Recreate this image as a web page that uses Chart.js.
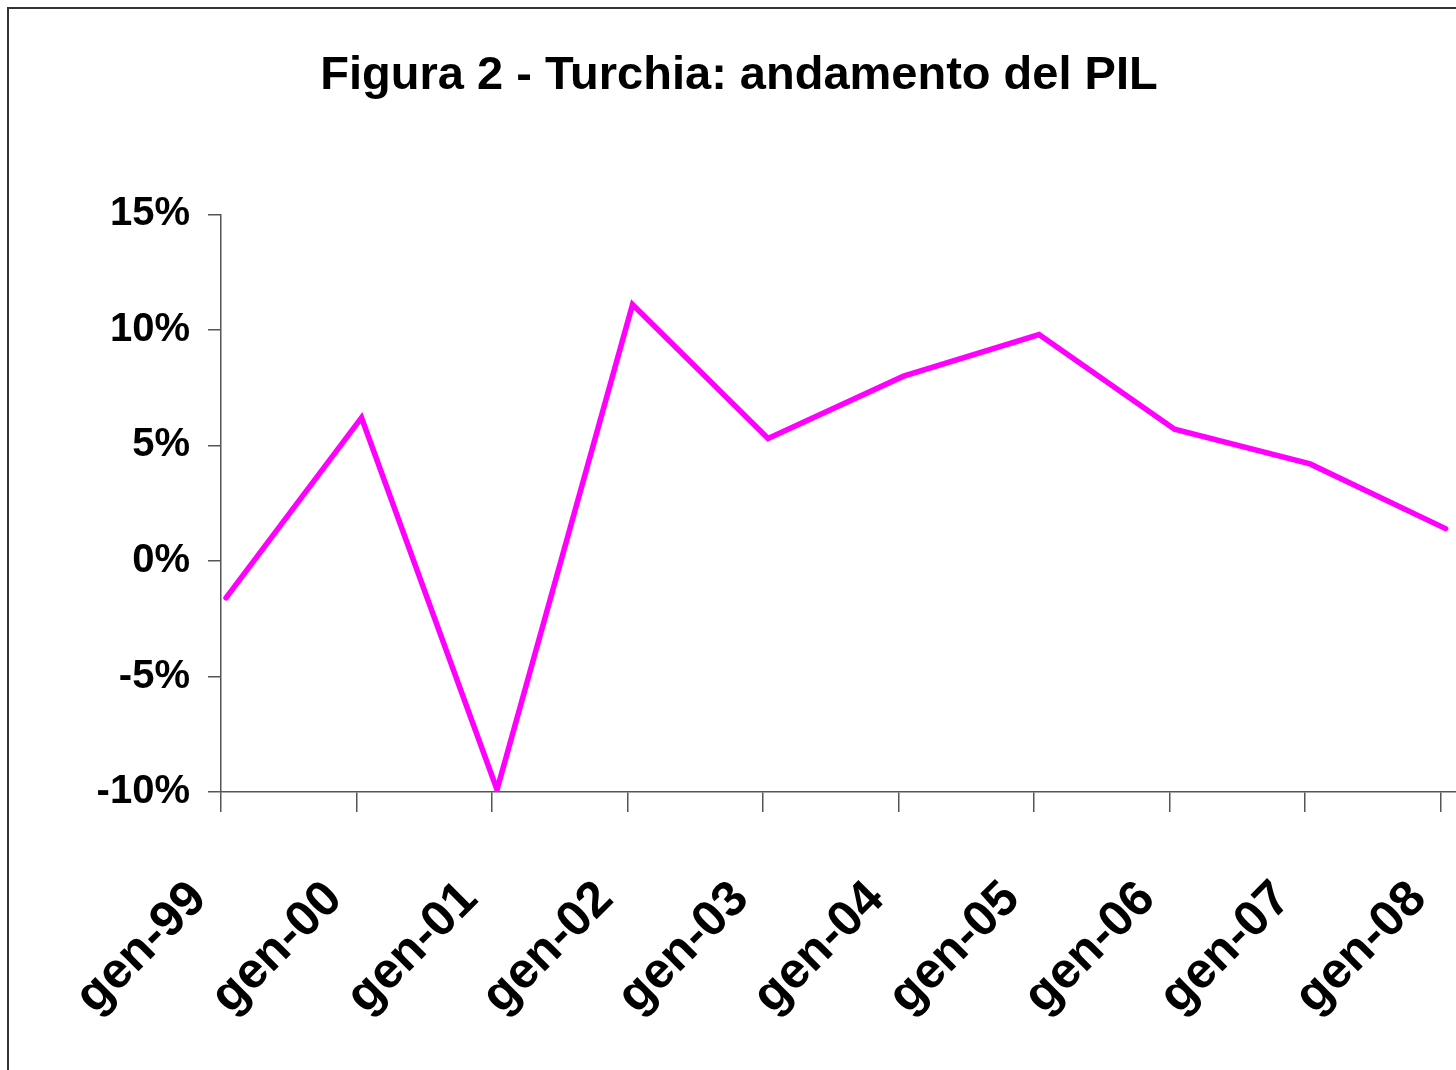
<!DOCTYPE html>
<html>
<head>
<meta charset="utf-8">
<script src="https://cdn.jsdelivr.net/npm/chart.js@4.4.1/dist/chart.umd.min.js"></script>
<style>
  html, body { margin: 0; padding: 0; background: #fff; overflow: hidden; }
  #frame { position: absolute; left: 7px; top: 7px; width: 1500px; height: 1100px; border-left: 2px solid #333; border-top: 2px solid #333; }
  #wrap { position: absolute; left: 0; top: 0; width: 1456px; height: 1070px; }
</style>
</head>
<body>
<div id="frame"></div>
<div id="wrap"><canvas id="chart-pil"></canvas></div>
<script>
// Figura 2 - Turchia: andamento del PIL
let labelsPil = ['gen-99', 'gen-00', 'gen-01', 'gen-02', 'gen-03', 'gen-04', 'gen-05', 'gen-06', 'gen-07', 'gen-08'];
let dataPil = [-1.6, 6.2, -9.9, 11.1, 5.3, 8.0, 9.8, 5.7, 4.2, 1.4];
let yTicks = [-10, -5, 0, 5, 10, 15];

// Excel draws the year ticks a little before each data point
let tickShift = 0.037;

let font = { family: 'Liberation Sans, Arial, sans-serif', weight: 'bold' };
let axisColor = '#555';

let ctxPil = document.getElementById('chart-pil').getContext('2d');

let chartPil = new Chart(ctxPil, {
    type: 'line',
    data: {
        datasets: [{
            data: dataPil.map((v, i) => ({ x: i, y: v })),
            borderColor: '#FF00FF',
            borderWidth: 5.5,
            pointRadius: 0,
            tension: 0,
            borderCapStyle: 'round',
            borderJoinStyle: 'miter'
        }]
    },
    options: {
        responsive: true,
        maintainAspectRatio: false,
        animation: false,
        layout: { padding: { left: 22, right: 0, top: 0, bottom: 0 } },
        plugins: {
            legend: { display: false },
            tooltip: { enabled: false },
            title: {
                display: true,
                text: 'Figura 2 - Turchia: andamento del PIL',
                color: '#000',
                font: { family: font.family, weight: 'bold', size: 47 },
                padding: { top: 48, bottom: 110 }
            }
        },
        scales: {
            x: {
                type: 'linear',
                min: -tickShift,
                max: 9.077,
                afterBuildTicks: (scale) => {
                    scale.ticks = labelsPil.map((l, i) => ({ value: i - tickShift }));
                },
                afterFit: (scale) => {
                    scale.height = 278;
                    scale.paddingLeft = 0;
                    scale.paddingRight = 0;
                },
                ticks: {
                    autoSkip: false,
                    maxRotation: 45,
                    minRotation: 45,
                    padding: 58,
                    labelOffset: -22,
                    color: '#000',
                    font: { family: font.family, weight: 'bold', size: 50 },
                    callback: (value) => labelsPil[Math.round(value + tickShift)]
                },
                grid: { drawOnChartArea: false, drawTicks: true, tickLength: 20, color: axisColor, lineWidth: 1.5 },
                border: { display: true, color: axisColor, width: 1.5 }
            },
            y: {
                min: -10,
                max: 15,
                afterBuildTicks: (scale) => {
                    scale.ticks = yTicks.map(v => ({ value: v }));
                },
                afterFit: (scale) => { scale.width = 199; },
                ticks: {
                    padding: 18,
                    color: '#000',
                    font: { family: font.family, weight: 'bold', size: 40 },
                    callback: (value) => value + '%'
                },
                grid: { drawOnChartArea: false, drawTicks: true, tickLength: 13, color: axisColor, lineWidth: 1.5 },
                border: { display: true, color: axisColor, width: 1.5 }
            }
        }
    }
});
</script>
</body>
</html>
